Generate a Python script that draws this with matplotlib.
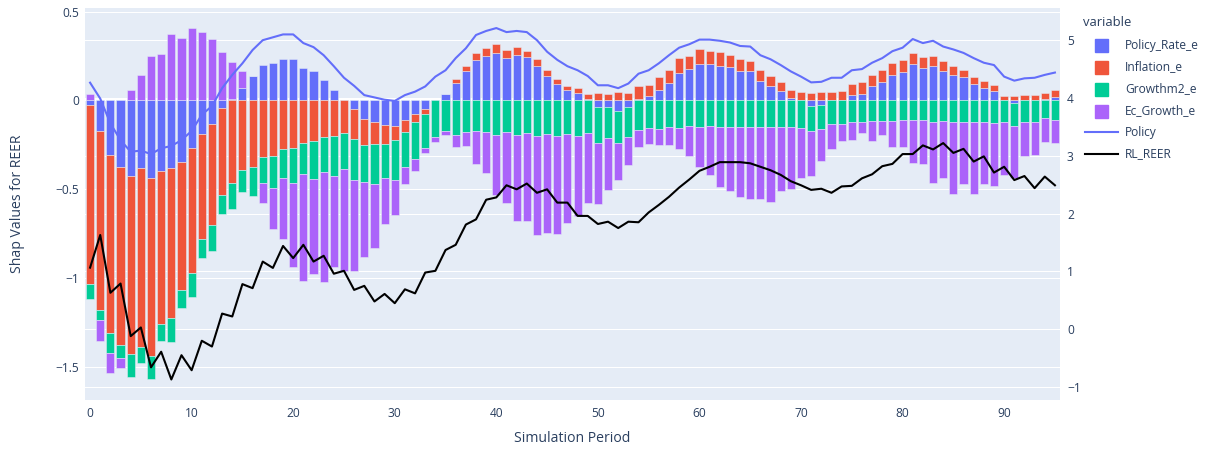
import numpy as np
import matplotlib
matplotlib.use("Agg")
import matplotlib.pyplot as plt
from matplotlib.patches import Rectangle
from matplotlib.lines import Line2D

plt.rcParams["font.family"] = ["Open Sans", "DejaVu Sans"]

# ---- data ----
periods = np.arange(96)

policy_rate_e = [
    -0.025, -0.172, -0.308, -0.372, -0.423, -0.381, -0.437, -0.397, -0.378, -0.348,
    -0.269, -0.188, -0.132, -0.044, 0.010, 0.072, 0.137, 0.197, 0.213, 0.231,
    0.231, 0.181, 0.166, 0.115, 0.059, 0.000, -0.048, -0.104, -0.119, -0.138,
    -0.144, -0.110, -0.076, -0.050, 0.000, 0.035, 0.100, 0.166, 0.228, 0.250,
    0.269, 0.240, 0.253, 0.243, 0.195, 0.139, 0.091, 0.060, 0.040, 0.008,
    -0.038, -0.038, -0.057, -0.035, 0.010, 0.025, 0.059, 0.100, 0.157, 0.176,
    0.205, 0.205, 0.193, 0.190, 0.167, 0.167, 0.109, 0.084, 0.053, 0.015,
    0.000, -0.031, -0.025, 0.000, 0.000, 0.030, 0.034, 0.081, 0.103, 0.146,
    0.161, 0.206, 0.180, 0.195, 0.165, 0.146, 0.131, 0.094, 0.071, 0.056,
    0.000, -0.015, 0.000, 0.000, 0.010, 0.017,
]

inflation_e = [
    -1.007, -1.006, -1.002, -1.003, -1.005, -1.004, -1.000, -0.857, -0.847, -0.718,
    -0.699, -0.593, -0.570, -0.488, -0.462, -0.390, -0.376, -0.320, -0.310, -0.275,
    -0.265, -0.237, -0.228, -0.207, -0.200, -0.181, -0.169, -0.146, -0.128, -0.107,
    -0.078, -0.065, -0.047, -0.028, 0.005, 0.000, 0.020, 0.030, 0.040, 0.043,
    0.049, 0.045, 0.045, 0.037, 0.039, 0.030, 0.032, 0.024, 0.032, 0.027,
    0.040, 0.036, 0.049, 0.044, 0.070, 0.060, 0.072, 0.072, 0.082, 0.076,
    0.086, 0.075, 0.081, 0.068, 0.066, 0.057, 0.060, 0.051, 0.049, 0.043,
    0.050, 0.040, 0.050, 0.046, 0.056, 0.060, 0.071, 0.062, 0.071, 0.062,
    0.069, 0.062, 0.064, 0.054, 0.056, 0.047, 0.043, 0.037, 0.037, 0.030,
    0.028, 0.027, 0.030, 0.030, 0.034, 0.040,
]

growthm2_e = [
    -0.086, -0.057, -0.112, -0.075, -0.126, -0.090, -0.128, -0.097, -0.135, -0.103,
    -0.139, -0.107, -0.143, -0.108, -0.150, -0.126, -0.161, -0.142, -0.180, -0.159,
    -0.197, -0.179, -0.215, -0.197, -0.223, -0.206, -0.230, -0.206, -0.225, -0.193,
    -0.225, -0.197, -0.208, -0.187, -0.203, -0.172, -0.194, -0.176, -0.170, -0.176,
    -0.194, -0.176, -0.194, -0.181, -0.200, -0.190, -0.200, -0.190, -0.200, -0.181,
    -0.199, -0.175, -0.184, -0.168, -0.166, -0.153, -0.160, -0.147, -0.153, -0.142,
    -0.147, -0.144, -0.147, -0.147, -0.147, -0.147, -0.151, -0.151, -0.151, -0.151,
    -0.157, -0.141, -0.137, -0.132, -0.132, -0.123, -0.119, -0.115, -0.113, -0.115,
    -0.110, -0.110, -0.110, -0.119, -0.113, -0.123, -0.119, -0.123, -0.119, -0.125,
    -0.119, -0.129, -0.119, -0.123, -0.100, -0.110,
]

ec_growth_e = [
    0.037, -0.116, -0.109, -0.056, 0.059, 0.143, 0.250, 0.262, 0.372, 0.353,
    0.406, 0.383, 0.344, 0.271, 0.208, 0.096, 0.000, -0.113, -0.231, -0.345,
    -0.473, -0.599, -0.533, -0.619, -0.515, -0.570, -0.510, -0.423, -0.360, -0.259,
    -0.197, -0.100, -0.063, -0.029, -0.028, -0.022, -0.066, -0.080, -0.187, -0.234,
    -0.337, -0.399, -0.484, -0.495, -0.557, -0.553, -0.553, -0.497, -0.450, -0.397,
    -0.347, -0.290, -0.206, -0.160, -0.094, -0.092, -0.089, -0.102, -0.121, -0.170,
    -0.229, -0.275, -0.338, -0.363, -0.394, -0.409, -0.401, -0.418, -0.358, -0.349,
    -0.277, -0.251, -0.178, -0.141, -0.094, -0.099, -0.061, -0.111, -0.081, -0.149,
    -0.149, -0.241, -0.248, -0.343, -0.321, -0.405, -0.353, -0.405, -0.351, -0.356,
    -0.300, -0.294, -0.193, -0.183, -0.132, -0.130,
]

policy = [
    4.265, 3.99, 3.56, 3.27, 3.07, 3.09, 3.03, 3.13, 3.17, 3.27,
    3.43, 3.71, 3.86, 4.17, 4.40, 4.60, 4.83, 5.00, 5.05, 5.10,
    5.10, 4.95, 4.88, 4.74, 4.55, 4.35, 4.21, 4.05, 4.01, 3.97,
    3.95, 4.05, 4.11, 4.20, 4.37, 4.48, 4.69, 4.86, 5.09, 5.16,
    5.21, 5.14, 5.16, 5.14, 5.00, 4.80, 4.66, 4.55, 4.48, 4.38,
    4.22, 4.22, 4.17, 4.25, 4.42, 4.48, 4.60, 4.74, 4.87, 4.93,
    5.01, 5.01, 4.99, 4.96, 4.90, 4.89, 4.74, 4.67, 4.57, 4.46,
    4.37, 4.27, 4.28, 4.35, 4.35, 4.48, 4.50, 4.61, 4.69, 4.81,
    4.87, 5.02, 4.95, 4.99, 4.89, 4.84, 4.78, 4.69, 4.61, 4.57,
    4.37, 4.30, 4.34, 4.35, 4.40, 4.44,
]

rl_reer = [
    1.065, 1.63, 0.63, 0.79, -0.12, 0.03, -0.66, -0.39, -0.87, -0.45,
    -0.71, -0.20, -0.30, 0.27, 0.22, 0.78, 0.71, 1.17, 1.06, 1.44,
    1.23, 1.46, 1.17, 1.27, 0.96, 1.01, 0.68, 0.75, 0.48, 0.61,
    0.45, 0.69, 0.62, 0.98, 1.01, 1.37, 1.46, 1.81, 1.90, 2.24,
    2.28, 2.49, 2.42, 2.52, 2.36, 2.42, 2.19, 2.19, 1.96, 1.96,
    1.82, 1.86, 1.75, 1.86, 1.85, 2.02, 2.15, 2.29, 2.45, 2.59,
    2.74, 2.81, 2.89, 2.89, 2.89, 2.87, 2.81, 2.75, 2.67, 2.56,
    2.49, 2.41, 2.43, 2.36, 2.47, 2.48, 2.61, 2.68, 2.82, 2.86,
    3.03, 3.03, 3.18, 3.11, 3.22, 3.05, 3.12, 2.90, 2.99, 2.71,
    2.81, 2.58, 2.65, 2.44, 2.64, 2.49,
]

bar_names = ["Policy_Rate_e", "Inflation_e", "Growthm2_e", "Ec_Growth_e"]
line_names = ["Policy", "RL_REER"]

x_ticks = [0, 10, 20, 30, 40, 50, 60, 70, 80, 90]
left_ticks = [0.5, 0, -0.5, -1, -1.5]
left_labels = ["0.5", "0", "\u22120.5", "\u22121", "\u22121.5"]
right_ticks = [-1, 0, 1, 2, 3, 4, 5]
right_labels = ["\u22121", "0", "1", "2", "3", "4", "5"]

# ---- style ----
bar_colors = ["#636EFA", "#EF553B", "#00CC96", "#AB63FA"]
line_colors = ["#636EFA", "black"]
bg = "#E5ECF6"
txt = "#2a3f5f"
W, H = 1231, 455
tick_fs = 12 * 72 / 100
title_fs = 14 * 72 / 100

fig = plt.figure(figsize=(W / 100, H / 100), dpi=100)
ax = fig.add_axes([85 / W, 1 - 400 / H, 975 / W, 392 / H])
ax.set_facecolor(bg)
ax2 = ax.twinx()
ax2.patch.set_visible(False)

l_lim = (-1.684, 0.520)
r_lim = (-1.225, 5.557)
ax.set_xlim(-0.5, 95.5)
ax.set_ylim(*l_lim)
ax2.set_ylim(*r_lim)

# grid (both axes' grids drawn below the bars, plotly style)
for t in left_ticks:
    ax.axhline(t, color="white", lw=0.75, zorder=0.5)
ax.axhline(0, color="white", lw=1.5, zorder=0.6)
for t in right_ticks:
    yv = l_lim[0] + (t - r_lim[0]) / (r_lim[1] - r_lim[0]) * (l_lim[1] - l_lim[0])
    ax.axhline(yv, color="white", lw=0.75, zorder=0.5)

# relative stacked bars
pos_base = np.zeros(len(periods))
neg_base = np.zeros(len(periods))
for vals, col in zip([policy_rate_e, inflation_e, growthm2_e, ec_growth_e], bar_colors):
    v = np.array(vals)
    bottom = np.where(v >= 0, pos_base, neg_base)
    ax.bar(periods, v, width=0.8, bottom=bottom, color=col,
           edgecolor=bg, linewidth=0.36, zorder=2)
    pos_base += np.where(v >= 0, v, 0)
    neg_base += np.where(v < 0, v, 0)

ax2.plot(periods, policy, color=line_colors[0], lw=1.5, zorder=3)
ax2.plot(periods, rl_reer, color=line_colors[1], lw=1.5, zorder=3)

for a in (ax, ax2):
    for s in a.spines.values():
        s.set_visible(False)
    a.tick_params(length=0, colors=txt, labelsize=tick_fs)

ax.set_xticks(x_ticks)
ax.tick_params(axis="x", pad=5)
ax.set_yticks(left_ticks)
ax.set_yticklabels(left_labels)
ax.tick_params(axis="y", pad=4)
ax2.set_yticks(right_ticks)
ax2.set_yticklabels(right_labels)
ax2.tick_params(axis="y", pad=5)

ax.set_xlabel("Simulation Period", color=txt, fontsize=title_fs, va="center")
ax.xaxis.set_label_coords(0.5, (400 - 438) / 392)
ax.set_ylabel("Shap Values for REER", color=txt, fontsize=title_fs, va="center")
ax.yaxis.set_label_coords((18 - 85) / 975, 0.5)

# legend, drawn in figure pixels
def fx(px):
    return px / W

def fy(py):
    return 1 - py / H

fig.text(fx(1083), fy(23), "variable", color=txt, fontsize=13 * 72 / 100,
         ha="left", va="center")
rows = [45, 67, 89, 111, 132, 154]
for name, col, yp in zip(bar_names, bar_colors, rows[:4]):
    fig.add_artist(Rectangle((fx(1095), fy(yp + 6.5)), fx(13), 13 / H,
                             transform=fig.transFigure, color=col))
    fig.text(fx(1125), fy(yp), name, color=txt, fontsize=tick_fs, ha="left", va="center")
for name, col, yp in zip(line_names, line_colors, rows[4:]):
    fig.add_artist(Line2D([fx(1085), fx(1118)], [fy(yp), fy(yp)],
                          transform=fig.transFigure, color=col, lw=1.5))
    fig.text(fx(1125), fy(yp), name, color=txt, fontsize=tick_fs, ha="left", va="center")

fig.savefig("out.png", dpi=100, facecolor="white")
